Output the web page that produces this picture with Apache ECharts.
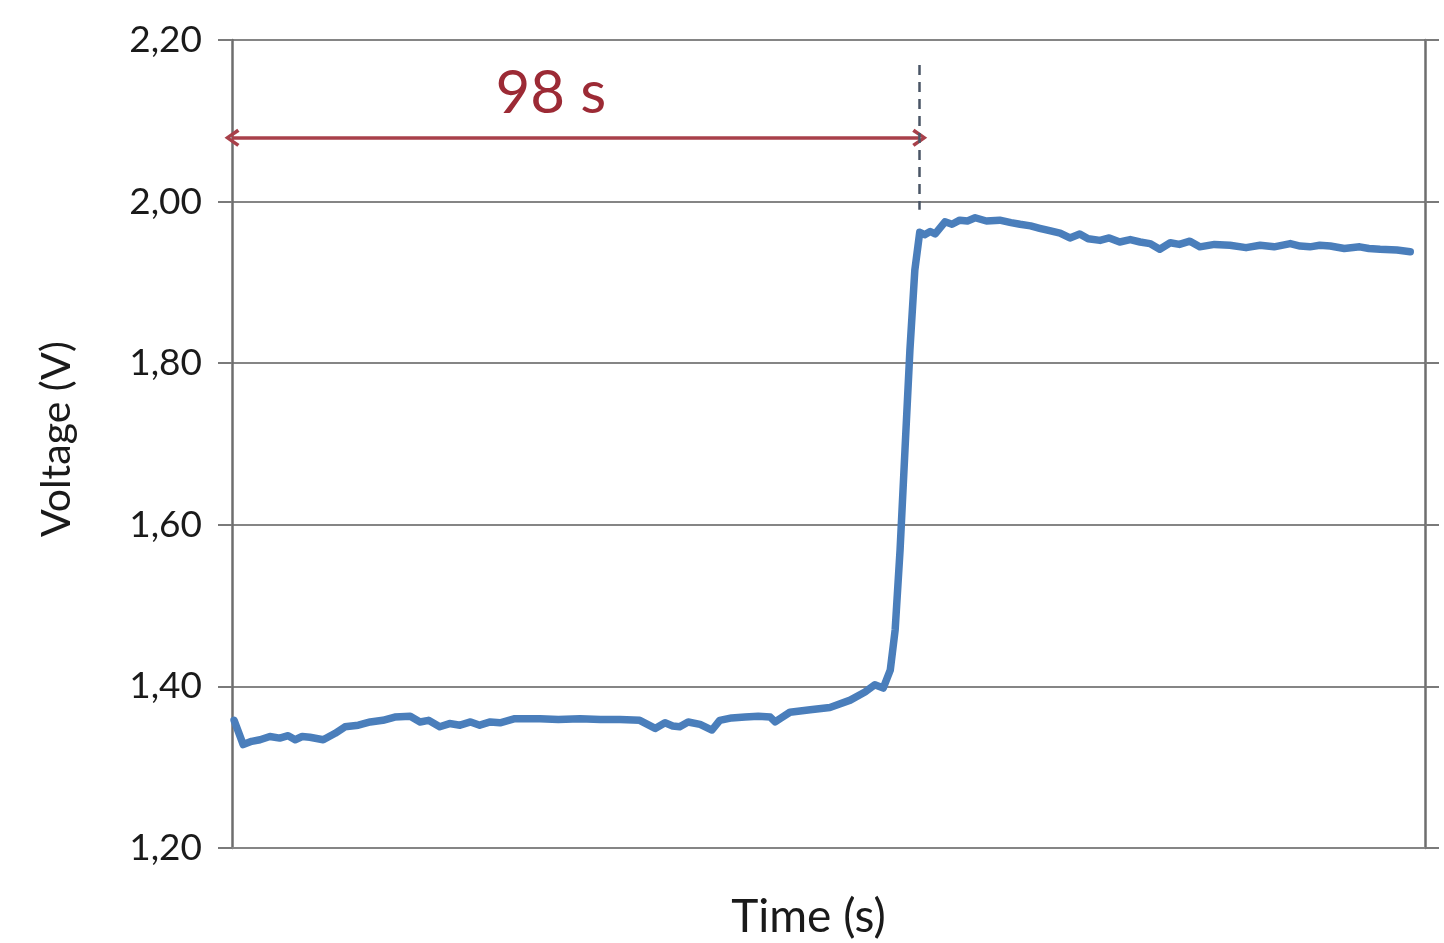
<!DOCTYPE html>
<html><head><meta charset="utf-8">
<script src="https://cdn.jsdelivr.net/npm/echarts@6/dist/echarts.min.js"></script>
<style>html,body{margin:0;padding:0;background:#fff}#c{width:1444px;height:943px}</style>
</head><body><div id="c"></div>
<script>
const timeS = [0.3,1.6,2.8,4.0,5.4,6.8,8.0,9.0,10.0,11.1,13.0,14.7,16.1,18.0,19.7,21.5,23.2,25.4,26.8,28.0,29.6,31.0,32.5,34.0,35.3,36.8,38.2,40.3,43.9,46.5,49.6,52.5,55.3,58.1,60.3,61.7,62.8,63.8,65.0,66.7,68.4,69.5,71.2,73.1,75.0,76.7,77.4,78.1,79.5,82.4,85.2,88.1,90.2,91.6,92.8,93.8,94.5,95.2,95.9,96.6,97.3,98.0,98.7,99.5,100.2,101.6,102.6,103.7,104.8,105.9,107.5,109.4,111.0,112.3,113.8,115.1,116.5,118.0,119.4,120.8,122.0,123.7,125.0,126.5,128.0,129.4,130.8,132.2,133.7,135.0,136.5,137.9,140.0,142.2,144.5,146.5,148.5,150.8,152.2,153.6,155.0,156.5,158.5,160.7,162.0,163.6,166.0,167.9];
const voltage = [1.358,1.328,1.332,1.334,1.338,1.336,1.339,1.334,1.338,1.337,1.334,1.342,1.350,1.352,1.356,1.358,1.362,1.363,1.356,1.358,1.350,1.354,1.352,1.356,1.352,1.356,1.355,1.360,1.360,1.359,1.360,1.359,1.359,1.358,1.348,1.355,1.351,1.350,1.356,1.353,1.346,1.358,1.361,1.362,1.363,1.362,1.356,1.360,1.368,1.371,1.374,1.383,1.393,1.402,1.398,1.420,1.470,1.569,1.693,1.816,1.915,1.962,1.959,1.963,1.960,1.975,1.972,1.977,1.976,1.980,1.976,1.977,1.974,1.972,1.970,1.967,1.964,1.961,1.955,1.960,1.954,1.952,1.955,1.950,1.953,1.950,1.948,1.941,1.949,1.947,1.951,1.944,1.947,1.946,1.943,1.946,1.944,1.948,1.945,1.944,1.946,1.945,1.942,1.944,1.942,1.941,1.940,1.938];
const yTicks = [1.2,1.4,1.6,1.8,2.0,2.2];
const delayS = 98;
const delayLabel = '98 s';
const arrowV = 2.079;
const dashTop = 2.169, dashBottom = 1.990;

const data = timeS.map((t,i)=>[t, voltage[i]]);
const chev = 'path://M5,0 L10,8 L8.4,9.4 L5,3.6 L1.6,9.4 L0,8 Z';
const fontFam = 'Lato, "Open Sans", sans-serif';
const axisCommon = {
  type:'value', min:yTicks[0], max:yTicks[yTicks.length-1], interval:0.2,
  axisLine:{show:true, lineStyle:{color:'#6e6e6e', width:2.5}},
  axisTick:{show:true, inside:false, length:14, lineStyle:{color:'#7a7a7a', width:2}},
  splitLine:{show:true, lineStyle:{color:'#858585', width:2}}
};
const chart = echarts.init(document.getElementById('c'));
chart.setOption({
  animation:false,
  backgroundColor:'#fff',
  grid:{left:232, right:19, top:40, bottom:95, containLabel:false, outerBoundsMode:'none'},
  xAxis:{type:'value', min:0, max:170,
    axisLine:{show:true, lineStyle:{color:'#858585', width:2}},
    axisTick:{show:false}, axisLabel:{show:false}, splitLine:{show:false},
    name:'Time (s)', nameLocation:'middle', nameGap:46,
    nameTextStyle:{fontFamily:fontFam, fontSize:46, color:'#1a1a1a', padding:[0,40,0,0]}},
  yAxis:[
    Object.assign({}, axisCommon, {position:'left',
      axisLabel:{margin:30, fontFamily:fontFam, fontSize:37, color:'#1a1a1a', formatter:v=>v.toFixed(2).replace('.',',')},
      name:'Voltage (V)', nameLocation:'middle', nameGap:155, nameRotate:90,
      nameTextStyle:{fontFamily:fontFam, fontSize:41, color:'#1a1a1a', padding:[0,0,0,10]}}),
    Object.assign({}, axisCommon, {position:'right', axisLabel:{show:false}, splitLine:{show:false}})
  ],
  series:[{
    type:'line', data:data, showSymbol:false, smooth:false,
    lineStyle:{color:'#4a7ebb', width:7.5, join:'round', cap:'round'},
    markLine:{silent:true, animation:false,
      data:[
        [{coord:[0,arrowV], symbol:chev, symbolSize:[18,15], lineStyle:{color:'#a8404a', width:3.5, type:'solid'},
          label:{show:true, position:'middle', distance:14, formatter:delayLabel, fontFamily:fontFam, fontSize:60, color:'#9c2a35', padding:[0,50,0,0]}},
         {coord:[delayS,arrowV], symbol:chev, symbolSize:[18,15]}],
        [{coord:[delayS,dashTop], symbol:'none', lineStyle:{color:'#4a5566', width:2.5, type:[10,7]}, label:{show:false}},
         {coord:[delayS,dashBottom], symbol:'none'}]
      ]}
  }]
});
</script></body></html>
